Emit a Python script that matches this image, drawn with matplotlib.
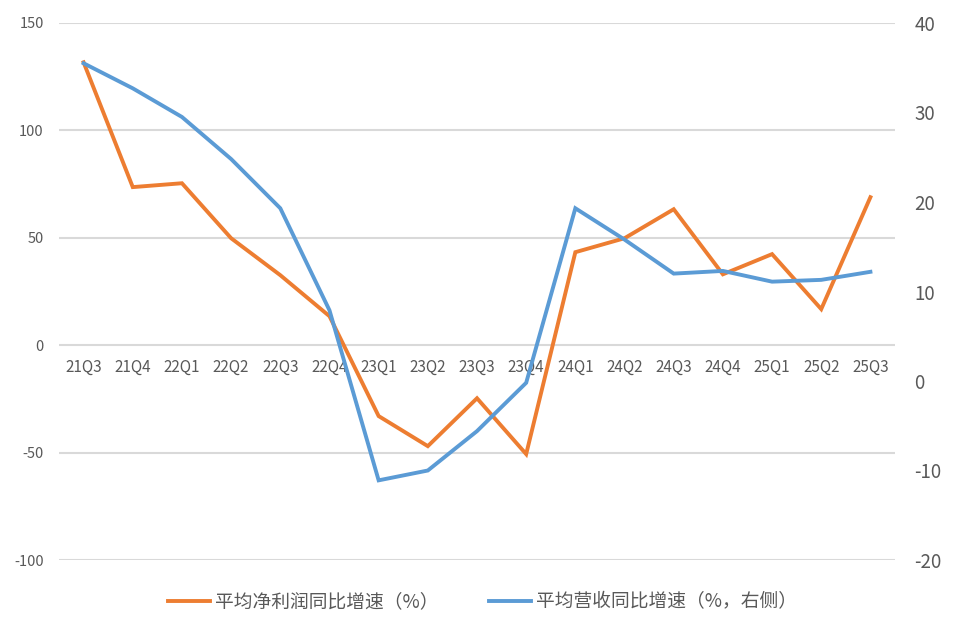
import matplotlib
matplotlib.use("Agg")
import matplotlib.pyplot as plt

plt.rcParams['font.family'] = ['Noto Sans CJK SC', 'DejaVu Sans']
plt.rcParams['axes.unicode_minus'] = False

quarters = ["21Q3", "21Q4", "22Q1", "22Q2", "22Q3", "22Q4", "23Q1", "23Q2", "23Q3",
            "23Q4", "24Q1", "24Q2", "24Q3", "24Q4", "25Q1", "25Q2", "25Q3"]
profit_growth = [131.7, 73.6, 75.4, 49.8, 32.6, 13.5, -33.0, -47.0, -24.7,
                 -50.7, 43.3, 49.8, 63.3, 33.0, 42.4, 16.8, 68.9]
revenue_growth = [35.5, 32.7, 29.5, 24.8, 19.3, 7.9, -11.1, -10.0, -5.6,
                  -0.2, 19.3, 15.8, 12.0, 12.3, 11.1, 11.3, 12.2]
left_ticks = [-100, -50, 0, 50, 100, 150]
right_ticks = [-20, -10, 0, 10, 20, 30, 40]
profit_label = "平均净利润同比增速（%）"
revenue_label = "平均营收同比增速（%，右侧）"

ORANGE = "#ED7D31"
BLUE = "#5B9BD5"
TXT = "#595959"

fig = plt.figure(figsize=(9.56, 6.35), dpi=100)
ax = fig.add_axes([59/956, 75/635, (895-59)/956, (560-23)/635])
ax2 = ax.twinx()

x = list(range(len(quarters)))
l1, = ax.plot(x, profit_growth, color=ORANGE, lw=2.8, label=profit_label,
              solid_joinstyle='miter', zorder=3)
l2, = ax2.plot(x, revenue_growth, color=BLUE, lw=2.8, label=revenue_label,
               solid_joinstyle='miter', zorder=3)

ax.set_xlim(-0.5, len(quarters) - 0.5)
ax.set_ylim(-100, 150)
ax2.set_ylim(-20, 40)
ax.set_yticks(left_ticks)
ax2.set_yticks(right_ticks)
ax.yaxis.grid(True, color="#D9D9D9", lw=1.5)
ax.set_axisbelow(True)

for a in (ax, ax2):
    for s in a.spines.values():
        s.set_visible(False)

ax.spines['bottom'].set_position(('data', 0))
ax.set_xticks(x)
ax.set_xticklabels(quarters)
ax.tick_params(axis='x', length=0, pad=10, labelsize=11, labelcolor=TXT)
ax.tick_params(axis='y', length=0, pad=11, labelsize=10.5, labelcolor=TXT)
ax2.tick_params(axis='y', length=0, pad=14, labelsize=13.5, labelcolor=TXT)

fig.legend(handles=[l1, l2], loc='center', bbox_to_anchor=(0.505, 0.052),
           ncol=2, frameon=False, fontsize=13.5, handlelength=2.2,
           handletextpad=0.3, columnspacing=2.7, labelcolor=TXT)

fig.savefig("out.png", dpi=100)
